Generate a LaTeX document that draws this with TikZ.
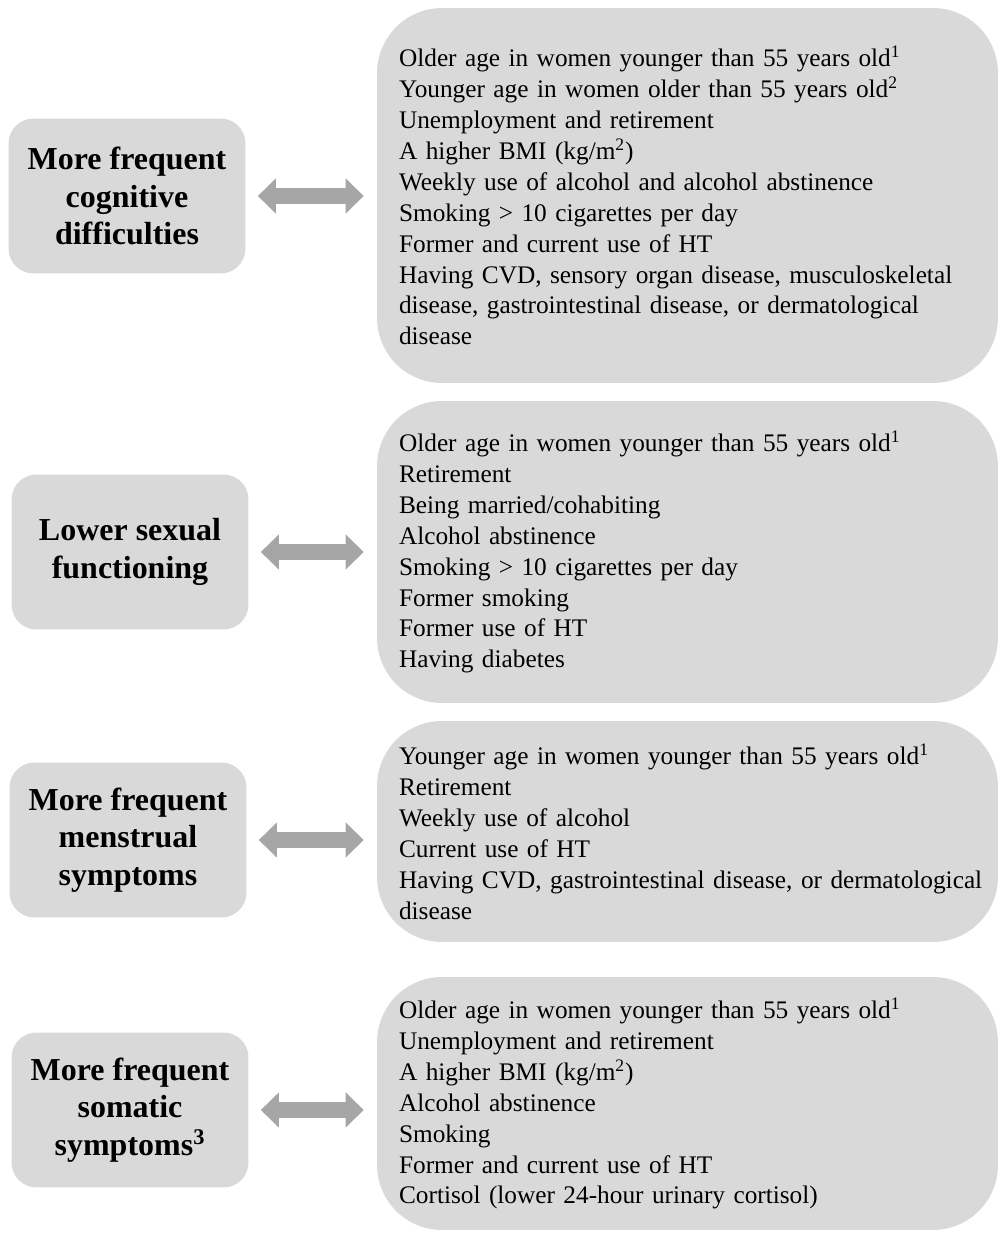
\documentclass[tikz,border=0pt]{standalone}
\usepackage{fontspec}
\setmainfont{Liberation Serif}
\usetikzlibrary{arrows.meta}
\definecolor{boxgray}{HTML}{D9D9D9}
\definecolor{arrowgray}{HTML}{A6A6A6}
\begin{document}
\begin{tikzpicture}[x=0.02cm, y=-0.02cm,
    lbox/.style={rounded corners=0.5cm, fill=boxgray, minimum width=4.74cm, minimum height=3.1cm, align=center, font=\fontsize{18.2pt}{21.5pt}\selectfont\bfseries},
    rbox/.style={rounded corners=1.3cm, fill=boxgray, text width=11.54cm, inner xsep=0.44cm, align=left, font=\fontsize{14.4pt}{17.6pt}\selectfont},
    biarrow/.style={arrowgray, line width=0.32cm, {Triangle[width=0.68cm,length=0.36cm]}-{Triangle[width=0.68cm,length=0.36cm]}, shorten <=0.24cm, shorten >=0.26cm}]
      \useasboundingbox (0,0) rectangle (998,1237);
      \node[lbox] (1) at (127,196) {More frequent\\cognitive\\difficulties};
      \node[rbox, minimum height=7.5cm] (2) at (687.5,195.5) {Older age in women younger than 55 years old\textsuperscript{1}\\
        Younger age in women older than 55 years old\textsuperscript{2}\\
        Unemployment and retirement\\
        A higher BMI (kg/m\textsuperscript{2})\\
        Weekly use of alcohol and alcohol abstinence\\
        Smoking > 10 cigarettes per day\\
        Former and current use of HT\\
        \mbox{Having CVD, sensory organ disease, musculoskeletal}\\
        \mbox{disease, gastrointestinal disease, or dermatological}\\
        disease};
      \node[lbox] (3) at (130,552) {Lower sexual\\functioning};
      \node[rbox, minimum height=6.04cm] (4) at (687.5,552) {Older age in women younger than 55 years old\textsuperscript{1}\\
        Retirement\\
        Being married/cohabiting\\
        Alcohol abstinence\\
        Smoking > 10 cigarettes per day\\
        Former smoking\\
        Former use of HT\\
        Having diabetes};
      \node[lbox] (5) at (128,840) {More frequent\\menstrual\\symptoms};
      \node[rbox, minimum height=4.42cm] (6) at (687.5,831.5) {Younger age in women younger than 55 years old\textsuperscript{1}\\
        Retirement\\
        Weekly use of alcohol\\
        Current use of HT\\
        \mbox{Having CVD, gastrointestinal disease, or dermatological}\\
        disease};
      \node[lbox] (7) at (130,1110) {More frequent\\somatic\\symptoms\textsuperscript{3}};
      \node[rbox, minimum height=5.06cm] (8) at (687.5,1103.5) {Older age in women younger than 55 years old\textsuperscript{1}\\
        Unemployment and retirement\\
        A higher BMI (kg/m\textsuperscript{2})\\
        Alcohol abstinence\\
        Smoking\\
        Former and current use of HT\\
        Cortisol (lower 24-hour urinary cortisol)};
      \foreach \source/\dest in {1/2, 3/4, 5/6, 7/8}
        \draw[biarrow] (\source.east) -- (\source.east -| \dest.west);
    \end{tikzpicture}
\end{document}
